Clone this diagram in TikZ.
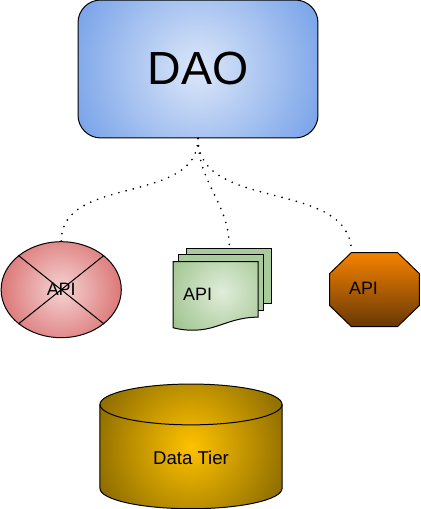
\documentclass[tikz,border=0pt]{standalone}
\usepackage{xcolor}
\usepackage{fontspec}
\setmainfont{Liberation Sans}
\usetikzlibrary{shapes.geometric, positioning, calc}
\definecolor{daoOuter}{HTML}{74A0E8}
\definecolor{daoInner}{HTML}{DCE7F9}
\definecolor{redOuter}{HTML}{DC7878}
\definecolor{redInner}{HTML}{F5D3D3}
\definecolor{greenOuter}{HTML}{9EC38D}
\definecolor{greenInner}{HTML}{E0EDDA}
\definecolor{greenSheet}{HTML}{A9CB9B}
\definecolor{tierOuter}{HTML}{7F6200}
\definecolor{tierInner}{HTML}{FFC200}
\definecolor{octTop}{HTML}{F58200}
\definecolor{octBottom}{HTML}{683805}
\tikzset{
  % Gradient fill: inner colour, outer colour, radius
  glow/.style n args={3}{path picture={\shade[inner color=#1, outer color=#2] ([shift={(-#3,-#3)}]path picture bounding box.center) rectangle ([shift={(#3,#3)}]path picture bounding box.center);}},
  % Shapes
  daobox/.style={rectangle, rounded corners=0.6cm, minimum width=6.35cm, minimum height=3.65cm, text centered, draw=black, line width=0.75pt, glow={daoInner}{daoOuter}{3.7cm}, font=\fontsize{35}{37}\selectfont},
  apiball/.style={ellipse, minimum width=3.18cm, minimum height=2.54cm, inner sep=0pt, draw=black, line width=0.75pt, glow={redInner}{redOuter}{1.6cm}, apifont},
  tierpath/.style={draw=black, line width=0.75pt, glow={tierInner}{tierOuter}{3cm}},
  sheet/.style={rectangle, minimum width=2.25cm, minimum height=1.46cm, inner sep=0pt, draw=black, line width=0.75pt, fill=greenSheet},
  frontsheet/.style={draw=black, line width=0.75pt, path picture={\shade[inner color=greenInner, outer color=greenOuter] ([shift={(-1.43,-1.47)}]path picture bounding box.center) rectangle ([shift={(1.77,1.73)}]path picture bounding box.center);}},
  octpath/.style={draw=black, line width=0.75pt, top color=octTop, bottom color=octBottom},
  apifont/.style={font=\fontsize{13.5}{15}\selectfont},
  link/.style={line width=1.4pt, line cap=round, dash pattern=on 0pt off 5.6pt},
}
\begin{document}
\begin{tikzpicture}
    \useasboundingbox (-5.24,1.825) rectangle (5.90,-11.645);

    % DAO
    \node[daobox] (dao) at (0,0) {DAO};

    % API ball
    \node[apiball, below=2.72cm of dao, xshift=-3.62cm] (ball) {};
    \draw[line width=0.75pt] (ball.north west) -- (ball.south east);
    \draw[line width=0.75pt] (ball.north east) -- (ball.south west);
    \node[apifont] (ballapi) at (ball.center) {API};

    % Stacked sheets
    \node[sheet, below=2.89cm of dao, xshift=0.83cm] (back) {};
    \node[sheet, below=3.07cm of dao, xshift=0.62cm] (mid) {};
    \coordinate[below=3.26cm of dao, xshift=-0.66cm] (front);
    \path[frontsheet] (front) -- ++(2.25,0) -- ++(0,-1.47)
      .. controls +(-0.48,0) and +(0.34,0.106) .. ($(front)+(1.12,-1.72)$)
      .. controls +(-0.32,-0.106) and +(0.4,-0.106) .. ($(front)+(0,-1.75)$) -- cycle;
    \node[below right=0.7cm and 0.26cm of front, apifont, inner sep=0pt] (doc) {API};

    % API octagon
    \coordinate[below=3.02cm of dao, xshift=4.06cm] (octtop);
    \path[octpath] (octtop) -- ++(1.22,0) -- ++(0.58,-0.56) -- ++(0,-0.84) -- ++(-0.58,-0.56)
      -- ++(-1.22,0) -- ++(-0.58,0.56) -- ++(0,0.84) -- cycle;
    \node[below right=0.79cm and 0cm of octtop, xshift=-0.07cm, apifont, inner sep=0pt] (octapi) {API};

    % Data Tier
    \coordinate[below=7.04cm of dao, xshift=-0.185cm] (datatop);
    \path[tierpath] ($(datatop)+(-2.41,0)$) arc[start angle=180, end angle=0, x radius=2.41cm, y radius=0.54cm]
      -- ++(0,-2.22) arc[start angle=360, end angle=180, x radius=2.41cm, y radius=0.54cm] -- cycle;
    \draw[line width=0.75pt] ($(datatop)+(-2.41,0)$) arc[start angle=180, end angle=360, x radius=2.41cm, y radius=0.54cm];
    \node[font=\fontsize{14}{16}\selectfont] (datatext) at ($(datatop)+(0,-1.41)$) {Data Tier};

    % Links
    \draw[link] (dao.south) to[out=-90, in=90] (ball.north);
    \draw[link] (dao.south) to[out=-90, in=90] (back.north);
    \draw[link] (dao.south) to[out=-90, in=90] (octtop);
\end{tikzpicture}
\end{document}
